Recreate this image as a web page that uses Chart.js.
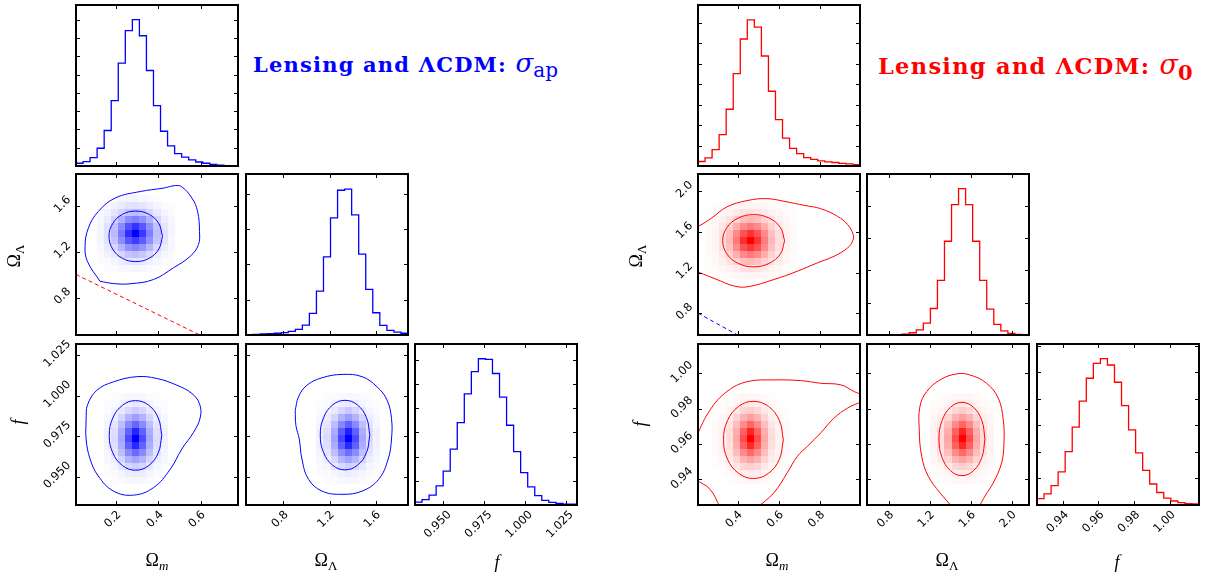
<!DOCTYPE html>
<html>
<head>
<meta charset="utf-8">
<script src="https://cdn.jsdelivr.net/npm/chart.js@4/dist/chart.umd.min.js"></script>
<style>
  body { margin: 0; background: #fff; width: 1206px; height: 575px; position: relative; overflow: hidden; }
  canvas { position: absolute; }
  .lab { position: absolute; font-family: "Liberation Serif", serif; font-size: 18px; color: #000; white-space: nowrap; transform: translate(-50%, -50%); }
  .lab.rot { transform: translate(-50%, -50%) rotate(-90deg); }
  .lab sub { font-size: 13px; }
  .ttl { position: absolute; font-family: "DejaVu Serif", serif; font-weight: bold; white-space: nowrap; line-height: 30px; }
  .ttl i { font-weight: normal; letter-spacing: 0; }
</style>
</head>
<body>
<div class="ttl" style="left:253px;top:48px;font-size:21px;letter-spacing:1.2px;color:#0000ff">Lensing and ΛCDM: <i style="font-size:26px">σ</i><sub style="font-weight:normal;font-size:20px;letter-spacing:0">ap</sub></div>
<div class="ttl" style="left:878px;top:50px;font-size:22.5px;letter-spacing:1.3px;color:#ff0000">Lensing and ΛCDM: <i style="font-size:27px">σ</i><sub style="font-size:21px;letter-spacing:0">0</sub></div>

<div class="lab" style="left:157px;top:562px">Ω<sub><i>m</i></sub></div>
<div class="lab" style="left:326px;top:562px">Ω<sub>Λ</sub></div>
<div class="lab" style="left:497px;top:562px"><i>f</i></div>
<div class="lab" style="left:777px;top:562px">Ω<sub><i>m</i></sub></div>
<div class="lab" style="left:947px;top:562px">Ω<sub>Λ</sub></div>
<div class="lab" style="left:1117px;top:562px"><i>f</i></div>
<div class="lab rot" style="left:16px;top:256px">Ω<sub>Λ</sub></div>
<div class="lab rot" style="left:18px;top:422px"><i>f</i></div>
<div class="lab rot" style="left:638px;top:256px">Ω<sub>Λ</sub></div>
<div class="lab rot" style="left:640px;top:424px"><i>f</i></div>

<script>
const BLUE = '#0000ff';
const RED = '#ff0000';

// axis ranges (each corner plot uses 23 bins across these)
const omRangeL = [0.008, 0.778];
const olRangeL = [0.475, 1.88];
const fRangeL = [0.9325, 1.032];
const omRangeR = [0.208, 0.994];
const olRangeR = [0.585, 2.17];
const fRangeR = [0.9255, 1.0165];

// tick values
const omTicksL = [0.2, 0.4, 0.6];
const olTicksL = [0.8, 1.2, 1.6];
const fTicksL = [0.950, 0.975, 1.000, 1.025];
const omTicksR = [0.4, 0.6, 0.8];
const olTicksR = [0.8, 1.2, 1.6, 2.0];
const fTicksR = [0.94, 0.96, 0.98, 1.00];

// 1D histograms (arbitrary units)
const histOmL = [0.15, 0.24, 0.46, 0.97, 1.94, 3.57, 5.62, 7.40, 8.00, 7.12, 5.22, 3.30, 1.90, 1.10, 0.68, 0.48, 0.33, 0.22, 0.15, 0.09, 0.05, 0.02, 0.01];
const histOlL = [0.01, 0.02, 0.03, 0.04, 0.05, 0.07, 0.10, 0.16, 0.28, 0.61, 1.24, 2.21, 3.32, 4.10, 4.13, 3.40, 2.29, 1.29, 0.63, 0.27, 0.13, 0.08, 0.05];
const histFL = [0.12, 0.22, 0.41, 0.79, 1.40, 2.31, 3.41, 4.60, 5.52, 6.05, 6.02, 5.44, 4.46, 3.30, 2.21, 1.34, 0.75, 0.39, 0.19, 0.11, 0.07, 0.04, 0.03];
const histOmR = [0.22, 0.40, 0.80, 1.53, 2.77, 4.51, 6.20, 7.13, 6.78, 5.37, 3.65, 2.26, 1.36, 0.86, 0.60, 0.41, 0.32, 0.25, 0.20, 0.17, 0.13, 0.10, 0.07];
const histOlR = [0, 0, 0, 0.005, 0.01, 0.03, 0.07, 0.16, 0.37, 0.82, 1.69, 2.90, 4.03, 4.53, 4.03, 2.90, 1.69, 0.80, 0.33, 0.13, 0.05, 0.02, 0.01];
const histFR = [0.24, 0.42, 0.73, 1.25, 2.01, 2.93, 3.91, 4.77, 5.33, 5.51, 5.27, 4.62, 3.74, 2.83, 1.96, 1.30, 0.79, 0.47, 0.26, 0.15, 0.09, 0.05, 0.04];
const histMaxL = [8.8, 4.56, 6.66];
const histMaxR = [7.86, 4.98, 6.06];

// 2D density cells, percent shading, rows top -> bottom
const densOlOmL = [
  [0, 1, 2, 3, 4, 4, 3, 2, 1, 0, 0],
  [1, 2, 5, 8, 11, 12, 10, 7, 4, 2, 1],
  [2, 5, 10, 17, 24, 27, 23, 16, 9, 4, 2],
  [3, 8, 17, 31, 45, 50, 44, 30, 16, 7, 3],
  [4, 11, 25, 46, 68, 80, 66, 44, 24, 10, 4],
  [4, 12, 27, 52, 82, 100, 78, 50, 26, 11, 4],
  [4, 11, 24, 45, 66, 76, 64, 43, 23, 10, 3],
  [3, 8, 16, 30, 43, 48, 42, 29, 15, 7, 3],
  [2, 5, 9, 16, 23, 26, 22, 15, 8, 4, 2],
  [1, 2, 4, 7, 10, 11, 9, 6, 3, 2, 1],
  [0, 1, 2, 3, 3, 4, 3, 2, 1, 0, 0]
];
const densFOmL = [
  [0, 1, 2, 3, 3, 3, 2, 1, 0],
  [1, 2, 4, 7, 9, 7, 4, 2, 1],
  [2, 4, 9, 16, 20, 16, 9, 4, 2],
  [3, 7, 17, 30, 38, 30, 17, 7, 3],
  [4, 10, 26, 46, 60, 46, 26, 10, 4],
  [5, 13, 32, 62, 86, 62, 32, 13, 5],
  [5, 14, 35, 70, 100, 70, 35, 14, 5],
  [5, 13, 32, 62, 84, 62, 32, 13, 5],
  [4, 10, 26, 46, 58, 46, 26, 10, 4],
  [3, 7, 17, 30, 37, 30, 17, 7, 3],
  [2, 4, 9, 16, 19, 16, 9, 4, 2],
  [1, 2, 4, 7, 8, 7, 4, 2, 1],
  [0, 1, 2, 3, 3, 3, 2, 1, 0]
];
const densFOlL = [
  [0, 1, 2, 3, 3, 3, 2, 1, 0],
  [1, 2, 4, 7, 9, 7, 4, 2, 1],
  [2, 4, 9, 16, 21, 16, 9, 4, 2],
  [3, 7, 17, 31, 39, 30, 17, 7, 3],
  [4, 10, 26, 47, 62, 46, 26, 10, 4],
  [5, 13, 33, 64, 88, 62, 32, 13, 5],
  [5, 14, 36, 72, 100, 70, 35, 14, 5],
  [5, 13, 32, 62, 84, 62, 32, 13, 5],
  [4, 10, 25, 45, 57, 45, 25, 10, 4],
  [3, 7, 16, 29, 36, 29, 16, 7, 3],
  [2, 4, 9, 15, 19, 15, 9, 4, 2],
  [1, 2, 4, 6, 8, 6, 4, 2, 1],
  [0, 1, 2, 3, 3, 3, 2, 1, 0]
];
const densOlOmR = [
  [0, 1, 1, 2, 3, 4, 4, 4, 3, 2, 1, 1, 0],
  [1, 1, 3, 5, 8, 11, 12, 11, 8, 5, 3, 1, 1],
  [1, 3, 6, 11, 18, 25, 28, 25, 18, 11, 6, 3, 1],
  [2, 4, 9, 18, 32, 46, 52, 46, 32, 18, 9, 4, 2],
  [2, 5, 12, 25, 46, 68, 80, 68, 46, 25, 12, 5, 2],
  [2, 5, 13, 28, 52, 82, 100, 80, 52, 28, 13, 5, 2],
  [2, 5, 12, 25, 46, 68, 78, 68, 46, 25, 12, 5, 2],
  [2, 4, 9, 18, 32, 46, 52, 46, 32, 18, 9, 4, 2],
  [1, 3, 6, 11, 18, 25, 28, 25, 18, 11, 6, 3, 1],
  [1, 1, 3, 5, 8, 11, 12, 11, 8, 5, 3, 1, 1],
  [0, 1, 1, 2, 3, 4, 4, 4, 3, 2, 1, 1, 0]
];
const densFOmR = [
  [0, 0, 1, 2, 3, 3, 3, 2, 1, 0, 0],
  [0, 1, 2, 4, 7, 9, 7, 4, 2, 1, 0],
  [1, 2, 4, 9, 16, 20, 16, 9, 4, 2, 1],
  [1, 3, 7, 17, 30, 38, 30, 17, 7, 3, 1],
  [2, 4, 10, 26, 46, 60, 46, 26, 10, 4, 2],
  [2, 5, 13, 32, 62, 86, 62, 32, 13, 5, 2],
  [2, 5, 14, 35, 70, 100, 70, 35, 14, 5, 2],
  [2, 5, 13, 32, 62, 84, 62, 32, 13, 5, 2],
  [2, 4, 10, 26, 46, 58, 46, 26, 10, 4, 2],
  [1, 3, 7, 17, 30, 37, 30, 17, 7, 3, 1],
  [1, 2, 4, 9, 16, 19, 16, 9, 4, 2, 1],
  [0, 1, 2, 4, 7, 8, 7, 4, 2, 1, 0],
  [0, 0, 1, 2, 3, 3, 3, 2, 1, 0, 0]
];
const densFOlR = [
  [0, 1, 2, 3, 3, 3, 2, 1, 0],
  [1, 2, 4, 7, 9, 7, 4, 2, 1],
  [2, 4, 9, 16, 20, 16, 9, 4, 2],
  [3, 7, 17, 30, 38, 30, 17, 7, 3],
  [4, 10, 26, 46, 60, 46, 26, 10, 4],
  [5, 13, 32, 62, 86, 62, 32, 13, 5],
  [5, 14, 35, 70, 100, 70, 35, 14, 5],
  [5, 13, 32, 62, 84, 62, 32, 13, 5],
  [4, 10, 26, 46, 58, 46, 26, 10, 4],
  [3, 7, 17, 30, 37, 30, 17, 7, 3],
  [2, 4, 9, 16, 19, 16, 9, 4, 2],
  [1, 2, 4, 7, 8, 7, 4, 2, 1],
  [0, 1, 2, 3, 3, 3, 2, 1, 0]
];

// contour lines, [x, y]
const cOlOmL_out = [[0.122, 0.944], [0.062, 1.118], [0.051, 1.249], [0.067, 1.409], [0.114, 1.553], [0.194, 1.670], [0.313, 1.727], [0.424, 1.757], [0.480, 1.779], [0.511, 1.768], [0.559, 1.670], [0.586, 1.553], [0.595, 1.379], [0.590, 1.263], [0.551, 1.162], [0.471, 1.061], [0.376, 0.959], [0.265, 0.922], [0.186, 0.924], [0.122, 0.944]];
const cOlOmL_in = [[0.419, 1.336], [0.402, 1.446], [0.356, 1.527], [0.292, 1.556], [0.228, 1.527], [0.182, 1.446], [0.165, 1.336], [0.182, 1.226], [0.228, 1.145], [0.292, 1.116], [0.356, 1.145], [0.402, 1.226], [0.419, 1.336]];
const cFOmL_out = [[0.056, 0.9858], [0.062, 0.9941], [0.107, 1.0034], [0.186, 1.0086], [0.297, 1.0118], [0.392, 1.0107], [0.488, 1.0065], [0.559, 1.0014], [0.595, 0.9951], [0.599, 0.9868], [0.567, 0.9775], [0.511, 0.9671], [0.456, 0.9546], [0.376, 0.9432], [0.281, 0.9386], [0.186, 0.9411], [0.114, 0.9504], [0.075, 0.9609], [0.056, 0.9733], [0.056, 0.9858]];
const cFOmL_in = [[0.416, 0.9755], [0.399, 0.9863], [0.354, 0.9941], [0.291, 0.9970], [0.229, 0.9941], [0.183, 0.9863], [0.166, 0.9755], [0.183, 0.9647], [0.229, 0.9569], [0.291, 0.9540], [0.354, 0.9569], [0.399, 0.9647], [0.416, 0.9755]];
const cFOlL_out = [[0.902, 0.9910], [0.930, 0.9993], [1.003, 1.0065], [1.134, 1.0111], [1.308, 1.0132], [1.482, 1.0118], [1.612, 1.0055], [1.699, 0.9972], [1.737, 0.9858], [1.737, 0.9733], [1.708, 0.9609], [1.626, 0.9484], [1.482, 0.9411], [1.308, 0.9391], [1.134, 0.9411], [1.017, 0.9484], [0.960, 0.9609], [0.937, 0.9733], [0.908, 0.9816], [0.902, 0.9910]];
const cFOlL_in = [[1.549, 0.9757], [1.520, 0.9865], [1.442, 0.9943], [1.334, 0.9972], [1.226, 0.9943], [1.148, 0.9865], [1.119, 0.9757], [1.148, 0.9649], [1.226, 0.9571], [1.334, 0.9542], [1.442, 0.9571], [1.520, 0.9649], [1.549, 0.9757]];

const cOlOmR_out = [[0.190, 1.640], [0.210, 1.655], [0.275, 1.738], [0.348, 1.846], [0.446, 1.908], [0.543, 1.927], [0.641, 1.895], [0.722, 1.862], [0.803, 1.829], [0.885, 1.753], [0.934, 1.672], [0.961, 1.573], [0.958, 1.508], [0.934, 1.443], [0.868, 1.360], [0.787, 1.295], [0.690, 1.213], [0.576, 1.131], [0.446, 1.059], [0.380, 1.069], [0.300, 1.131], [0.210, 1.203], [0.190, 1.215]];
const cOlOmR_in = [[0.628, 1.513], [0.608, 1.642], [0.553, 1.736], [0.478, 1.770], [0.403, 1.736], [0.348, 1.642], [0.328, 1.513], [0.348, 1.384], [0.403, 1.290], [0.478, 1.256], [0.553, 1.290], [0.608, 1.384], [0.628, 1.513]];
const cFOmR_top = [[0.195, 0.9620], [0.202, 0.9647], [0.267, 0.9793], [0.348, 0.9896], [0.446, 0.9952], [0.576, 0.9962], [0.706, 0.9958], [0.803, 0.9943], [0.901, 0.9934], [0.966, 0.9896], [1.005, 0.9878]];
const cFOmR_right = [[1.005, 0.9834], [0.999, 0.9836], [0.934, 0.9803], [0.868, 0.9746], [0.803, 0.9662], [0.739, 0.9587], [0.690, 0.9530], [0.641, 0.9437], [0.576, 0.9324], [0.495, 0.9240]];
const cFOmR_low = [[0.195, 0.9400], [0.202, 0.9395], [0.267, 0.9343], [0.316, 0.9240]];
const cFOmR_in = [[0.622, 0.9623], [0.603, 0.9732], [0.550, 0.9812], [0.477, 0.9841], [0.405, 0.9812], [0.351, 0.9732], [0.332, 0.9623], [0.351, 0.9514], [0.405, 0.9434], [0.477, 0.9405], [0.550, 0.9434], [0.603, 0.9514], [0.622, 0.9623]];
const cFOlR_out = [[1.410, 0.9240], [1.403, 0.9253], [1.299, 0.9324], [1.184, 0.9418], [1.120, 0.9530], [1.096, 0.9681], [1.103, 0.9812], [1.169, 0.9896], [1.299, 0.9962], [1.462, 0.9996], [1.592, 0.9990], [1.755, 0.9943], [1.869, 0.9859], [1.918, 0.9737], [1.925, 0.9606], [1.902, 0.9493], [1.820, 0.9380], [1.739, 0.9305], [1.690, 0.9253], [1.685, 0.9240]];
const cFOlR_in = [[1.739, 0.9628], [1.709, 0.9732], [1.627, 0.9807], [1.514, 0.9835], [1.402, 0.9807], [1.319, 0.9732], [1.289, 0.9628], [1.319, 0.9524], [1.402, 0.9449], [1.514, 0.9421], [1.627, 0.9449], [1.709, 0.9524], [1.739, 0.9628]];

// dashed reference lines
const dashOlOmL = [[0.008, 1.003], [0.60, 0.472]];
const dashOlOmR = [[0.208, 0.800], [0.40, 0.585]];

const TICK_FONT = { family: 'DejaVu Sans', size: 11.5 };
const PAD = { l: 60, t: 8, r: 8, b: 50 };

const toXY = arr => arr.map(p => ({ x: p[0], y: p[1] }));
const units = n => Array.from({ length: n }, (_, i) => i + 1);

function histSet(vals, range, color) {
  const w = (range[1] - range[0]) / vals.length;
  const pts = [{ x: range[0], y: 0 }];
  vals.forEach((v, i) => pts.push({ x: range[0] + i * w, y: v }));
  pts.push({ x: range[1], y: vals[vals.length - 1] });
  pts.push({ x: range[1], y: 0 });
  return { data: pts, showLine: true, stepped: true, borderColor: color, borderWidth: 1.3, pointRadius: 0 };
}
function lineSet(arr, color, dash) {
  return { data: toXY(arr), showLine: true, tension: dash ? 0 : 0.4, borderColor: color, borderWidth: 1,
           borderDash: dash || [], pointRadius: 0 };
}

// draws density cells, inward ticks on all four sides and the frame
const panelPlugin = {
  id: 'panel',
  beforeDatasetsDraw(chart, args, opts) {
    const d = opts.density;
    if (!d) return;
    const { ctx, chartArea: a } = chart;
    const xs = chart.scales.x, ys = chart.scales.y;
    const dx = (d.xr[1] - d.xr[0]) / 23, dy = (d.yr[1] - d.yr[0]) / 23;
    const n = d.cells.length;
    ctx.save();
    ctx.beginPath();
    ctx.rect(a.left, a.top, a.right - a.left, a.bottom - a.top);
    ctx.clip();
    d.cells.forEach((row, r) => row.forEach((v, c) => {
      if (!v) return;
      const ix = d.ix0 + c, iy = d.iy0 + (n - 1 - r);
      const x0 = Math.round(xs.getPixelForValue(d.xr[0] + ix * dx));
      const x1 = Math.round(xs.getPixelForValue(d.xr[0] + (ix + 1) * dx));
      const y0 = Math.round(ys.getPixelForValue(d.yr[0] + iy * dy));
      const y1 = Math.round(ys.getPixelForValue(d.yr[0] + (iy + 1) * dy));
      ctx.fillStyle = 'rgba(' + d.rgb + ',' + (v / 100) + ')';
      ctx.fillRect(x0, y1, x1 - x0, y0 - y1);
    }));
    ctx.restore();
  },
  afterDraw(chart) {
    const { ctx, chartArea: a } = chart;
    const xs = chart.scales.x, ys = chart.scales.y;
    ctx.save();
    ctx.strokeStyle = '#000';
    ctx.lineWidth = 1;
    ctx.beginPath();
    xs.ticks.forEach(t => {
      const p = Math.round(xs.getPixelForValue(t.value)) + 0.5;
      if (p < a.left + 2 || p > a.right - 2) return;
      ctx.moveTo(p, a.bottom); ctx.lineTo(p, a.bottom - 4);
      ctx.moveTo(p, a.top); ctx.lineTo(p, a.top + 4);
    });
    ys.ticks.forEach(t => {
      const p = Math.round(ys.getPixelForValue(t.value)) + 0.5;
      if (p < a.top + 2 || p > a.bottom - 2) return;
      ctx.moveTo(a.left, p); ctx.lineTo(a.left + 4, p);
      ctx.moveTo(a.right, p); ctx.lineTo(a.right - 4, p);
    });
    ctx.stroke();
    ctx.lineWidth = 2;
    ctx.strokeRect(a.left, a.top, a.right - a.left, a.bottom - a.top);
    ctx.restore();
  }
};
Chart.register(panelPlugin);

function axis(o, dir) {
  return {
    type: 'linear', min: o.range[0], max: o.range[1],
    grid: { display: false, drawTicks: false }, border: { display: false },
    afterBuildTicks: s => { s.ticks = o.ticks.map(v => ({ value: v })); },
    afterFit: s => {
      if (dir === 'x') { s.height = PAD.b; s.paddingLeft = 0; s.paddingRight = 0; }
      else { s.width = PAD.l; s.paddingTop = 0; s.paddingBottom = 0; }
    },
    ticks: {
      display: !!o.labels, minRotation: 45, maxRotation: 45, color: '#000', font: TICK_FONT,
      padding: dir === 'x' ? 3 : 7, labelOffset: o.offset || 0,
      callback: v => v.toFixed(o.digits || 0)
    }
  };
}

function panel(box, x, y, datasets, density) {
  const cv = document.createElement('canvas');
  const W = box[2] + PAD.l + PAD.r, H = box[3] + PAD.t + PAD.b;
  cv.width = W; cv.height = H;
  cv.style.width = W + 'px'; cv.style.height = H + 'px';
  cv.style.left = (box[0] - PAD.l) + 'px';
  cv.style.top = (box[1] - PAD.t) + 'px';
  document.body.insertBefore(cv, document.body.firstChild);
  new Chart(cv, {
    type: 'scatter',
    data: { datasets },
    options: {
      responsive: false, animation: false, devicePixelRatio: 1,
      layout: { padding: { left: 0, top: PAD.t, right: PAD.r, bottom: 0 } },
      plugins: { legend: { display: false }, tooltip: { enabled: false }, panel: { density: density || null } },
      scales: { x: axis(x, 'x'), y: axis(y, 'y') }
    }
  });
}

function corner(cols, rows, r, c) {
  const om = { range: r.om, ticks: r.omT, digits: 1 };
  const ol = { range: r.ol, ticks: r.olT, digits: 1 };
  const f = { range: r.f, ticks: r.fT, digits: r.fD };
  const B = (i, j) => [cols[i], rows[j], 162, 161];
  // diagonal
  panel(B(0, 0), om, { range: [0, r.hmax[0]], ticks: units(Math.floor(r.hmax[0])) }, [histSet(r.h[0], r.om, c)]);
  panel(B(1, 1), ol, { range: [0, r.hmax[1]], ticks: units(Math.floor(r.hmax[1])) }, [histSet(r.h[1], r.ol, c)]);
  panel(B(2, 2), Object.assign({ labels: true, offset: r.offF }, f), { range: [0, r.hmax[2]], ticks: units(Math.floor(r.hmax[2])) }, [histSet(r.h[2], r.f, c)]);
  // Omega_L vs Omega_m
  panel(B(0, 1), om, Object.assign({ labels: true, offset: -8 }, ol),
    [lineSet(r.c[0], c), lineSet(r.c[1], c), lineSet(r.dash, r.dashColor, [4, 3])],
    { cells: r.d[0], ix0: r.ix[0], iy0: r.iy[0], xr: r.om, yr: r.ol, rgb: r.rgb });
  // f vs Omega_m
  panel(B(0, 2), Object.assign({ labels: true, offset: 3 }, om), Object.assign({ labels: true, offset: r.offFy }, f),
    r.c[2].map(p => lineSet(p, c)),
    { cells: r.d[1], ix0: r.ix[1], iy0: r.iy[1], xr: r.om, yr: r.f, rgb: r.rgb });
  // f vs Omega_L
  panel(B(1, 2), Object.assign({ labels: true, offset: 3 }, ol), f,
    r.c[3].map(p => lineSet(p, c)),
    { cells: r.d[2], ix0: r.ix[2], iy0: r.iy[2], xr: r.ol, yr: r.f, rgb: r.rgb });
}

corner([76, 246, 415], [5, 174, 344], {
  om: omRangeL, ol: olRangeL, f: fRangeL, omT: omTicksL, olT: olTicksL, fT: fTicksL, fD: 3,
  offF: 6, offFy: -13,
  h: [histOmL, histOlL, histFL], hmax: histMaxL,
  c: [cOlOmL_out, cOlOmL_in, [cFOmL_out, cFOmL_in], [cFOlL_out, cFOlL_in]],
  dash: dashOlOmL, dashColor: RED,
  d: [densOlOmL, densFOmL, densFOlL], ix: [3, 4, 10], iy: [9, 3, 3], rgb: '0,0,255'
}, BLUE);

corner([698, 867, 1037], [5, 174, 344], {
  om: omRangeR, ol: olRangeR, f: fRangeR, omT: omTicksR, olT: olTicksR, fT: fTicksR, fD: 2,
  offF: 4, offFy: -10,
  h: [histOmR, histOlR, histFR], hmax: histMaxR,
  c: [cOlOmR_out, cOlOmR_in, [cFOmR_top, cFOmR_right, cFOmR_low, cFOmR_in], [cFOlR_out, cFOlR_in]],
  dash: dashOlOmR, dashColor: BLUE,
  d: [densOlOmR, densFOmR, densFOlR], ix: [1, 2, 9], iy: [8, 3, 3], rgb: '255,0,0'
}, RED);
</script>
</body>
</html>
